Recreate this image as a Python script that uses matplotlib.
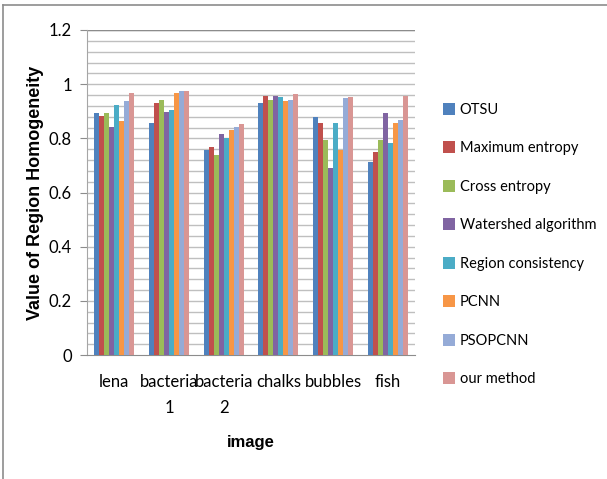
import numpy as np
import matplotlib
matplotlib.use("Agg")
import matplotlib.pyplot as plt
from matplotlib.lines import Line2D

plt.rcParams['font.family'] = ['Lato', 'DejaVu Sans']

images = ['lena', 'bacteria\n1', 'bacteria\n2', 'chalks', 'bubbles', 'fish']
methods = ['OTSU', 'Maximum entropy', 'Cross entropy', 'Watershed algorithm',
           'Region consistency', 'PCNN', 'PSOPCNN', 'our method']
colors = ['#4F81BD', '#C0504D', '#9BBB59', '#8064A2',
          '#4BACC6', '#F79646', '#95ABD7', '#D99694']

# region homogeneity per method, one value per image
otsu = [0.895, 0.855, 0.757, 0.930, 0.877, 0.714]
max_entropy = [0.883, 0.930, 0.767, 0.958, 0.855, 0.749]
cross_entropy = [0.894, 0.941, 0.737, 0.941, 0.794, 0.794]
watershed = [0.841, 0.898, 0.816, 0.957, 0.691, 0.894]
region_cons = [0.922, 0.905, 0.801, 0.952, 0.855, 0.784]
pcnn = [0.865, 0.969, 0.831, 0.937, 0.757, 0.855]
psopcnn = [0.937, 0.973, 0.841, 0.941, 0.948, 0.869]
ours = [0.969, 0.973, 0.852, 0.965, 0.952, 0.957]
series = [otsu, max_entropy, cross_entropy, watershed,
          region_cons, pcnn, psopcnn, ours]

W, H = 607, 479
fig = plt.figure(figsize=(W / 100, H / 100), dpi=100)
ax = fig.add_axes([87 / W, 1 - 355 / H, (415 - 87) / W, (355 - 30) / H])

x = np.arange(len(images))
bw = 0.0914
for i, (vals, c, name) in enumerate(zip(series, colors, methods)):
    ax.bar(x + (i - 3.5) * bw, vals, bw, color=c, label=name, zorder=3,
           linewidth=0)

ax.set_xlim(-0.5, len(images) - 0.5)
ax.set_ylim(0, 1.2)
ax.set_yticks(np.arange(0, 1.21, 0.2))
ax.set_yticklabels(['0', '0.2', '0.4', '0.6', '0.8', '1', '1.2'], fontsize=12)
for g in np.arange(0.04, 1.21, 0.04):
    ax.axhline(g, color='#BFBFBF', lw=1.0, zorder=1)
ax.axhline(1.2, color='#8C8C8C', lw=1.0, zorder=2)

ax.set_xticks(x)
ax.set_xticklabels(images, fontsize=12, linespacing=1.7)
ax.tick_params(axis='x', length=0, pad=14)
ax.tick_params(axis='y', length=5, color='#8C8C8C', pad=6)
for s in ['top', 'right']:
    ax.spines[s].set_visible(False)
ax.spines['left'].set_color('#A6A6A6')
ax.spines['bottom'].set_color('#8C8C8C')

ax.set_ylabel('Value of Region Homogeneity', fontsize=13, fontweight='bold',
              family='Liberation Sans', labelpad=3)
fig.text(251 / W, 1 - 443 / H, 'image', fontsize=12, fontweight='bold',
         family='Liberation Sans', ha='center', va='center')

fig.legend(loc='upper left', bbox_to_anchor=(437 / W, 1 - 97 / H),
           frameon=False, fontsize=10.5, handlelength=0.85, handleheight=0.85,
           handletextpad=0.3, labelspacing=1.68, borderaxespad=0)

# outer chart frame along the top and left edges
fig.add_artist(Line2D([3 / W, 1], [1 - 5 / H, 1 - 5 / H], color='#8C8C8C', lw=1.2))
fig.add_artist(Line2D([3 / W, 3 / W], [0, 1 - 5 / H], color='#8C8C8C', lw=1.2))

fig.savefig('out.png', dpi=100)
